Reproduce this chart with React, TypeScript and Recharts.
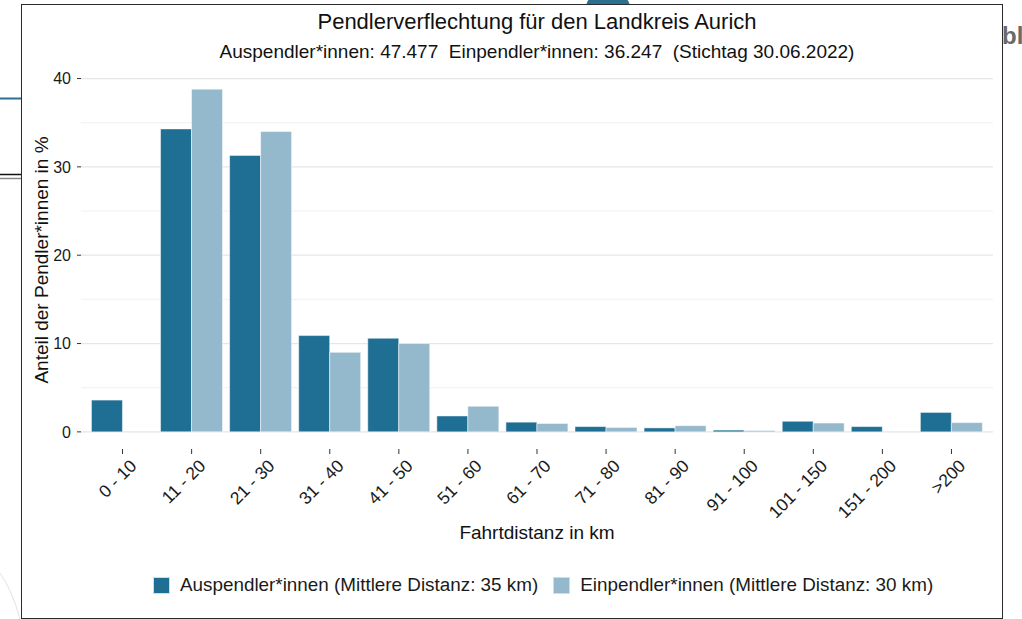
import React from 'react';
import { BarChart, Bar, XAxis, YAxis, CartesianGrid, Legend } from 'recharts';

const categories = ['0 - 10', '11 - 20', '21 - 30', '31 - 40', '41 - 50', '51 - 60', '61 - 70', '71 - 80', '81 - 90', '91 - 100', '101 - 150', '151 - 200', '>200'];
const auspendler = [3.6, 34.3, 31.3, 10.9, 10.6, 1.8, 1.1, 0.6, 0.45, 0.2, 1.2, 0.6, 2.2];
const einpendler = [null, 38.8, 34.0, 9.0, 10.0, 2.9, 0.95, 0.5, 0.7, 0.15, 1.0, null, 1.05];
const yTicks = [0, 10, 20, 30, 40];
const minorGrid = [5, 15, 25, 35];

const seriesNames = {
    aus: 'Auspendler*innen (Mittlere Distanz: 35 km)',
    ein: 'Einpendler*innen (Mittlere Distanz: 30 km)',
};
const colors = { aus: '#1f6f94', ein: '#94b9cc' };

const data = categories.map((c, i) => ({ name: c, aus: auspendler[i], ein: einpendler[i] }));

const FONT = '"Liberation Sans", Arial, sans-serif';

function XTick(props: any) {
    const { x, y, payload } = props;
    return (
        <g transform={`translate(${x + 15},${y + 11})`}>
            <text x={0} y={0} textAnchor="end" transform="rotate(-45)" fontSize={17.5} fill="#1a1a1a" fontFamily={FONT}>
                {payload.value}
            </text>
        </g>
    );
}

function LegendContent() {
    const items = [
        { key: 'aus', label: seriesNames.aus, color: colors.aus },
        { key: 'ein', label: seriesNames.ein, color: colors.ein },
    ];
    return (
        <div style={{ display: 'flex', alignItems: 'center', fontFamily: FONT, fontSize: 18.85, color: '#1a1a1a', whiteSpace: 'nowrap' }}>
            {items.map((it, i) => (
                <div key={it.key} style={{ display: 'flex', alignItems: 'center', marginLeft: i === 0 ? 0 : 15 }}>
                    <span style={{ width: 17, height: 17, background: it.color, border: '1px solid #cfdde6', boxSizing: 'border-box', marginRight: 10, display: 'inline-block' }} />
                    <span>{it.label}</span>
                </div>
            ))}
        </div>
    );
}

export default function App() {
    return (
        <div style={{ position: 'absolute', left: 0, top: 0, width: 1022, height: 619, background: '#fff', overflow: 'hidden', fontFamily: FONT }}>
            {/* screenshot surroundings */}
            <svg width={1022} height={619} style={{ position: 'absolute', left: 0, top: 0 }}>
                <circle cx={608} cy={12} r={23} fill="#2a6f8f" />
                <line x1={0} x2={22} y1={98.5} y2={98.5} stroke="#2d6f8f" strokeWidth={2} />
                <line x1={0} x2={22} y1={174.5} y2={174.5} stroke="#111" strokeWidth={1.5} />
                <line x1={0} x2={22} y1={178.5} y2={178.5} stroke="#888" strokeWidth={1.5} />
                <path d="M 0 573 Q 12 590 20 619" fill="none" stroke="#e2e2e2" strokeWidth={1} />
                <text x={1002} y={44} fontSize={24} fontWeight="bold" fill="#6a6a6a" fontFamily={FONT}>bl</text>
            </svg>
            <div style={{ position: 'absolute', left: 20.5, top: 3.5, width: 982, height: 615, border: '1.5px solid #2b2b2b', boxSizing: 'border-box', background: '#fff' }} />

            <div style={{ position: 'absolute', left: 0, top: 0 }}>
                <BarChart
                    width={1022}
                    height={619}
                    data={data}
                    margin={{ top: 72, right: 29, left: 21, bottom: 90 }}
                    barCategoryGap="5%"
                    barGap={0}
                >
                    <CartesianGrid vertical={false} horizontalValues={minorGrid} stroke="#f1f1f1" strokeWidth={1} />
                    <CartesianGrid vertical={false} horizontalValues={yTicks} stroke="#e6e6e6" strokeWidth={1.2} />
                    <XAxis
                        dataKey="name"
                        height={80}
                        interval={0}
                        padding={{ left: 7, right: 7 }}
                        axisLine={false}
                        tickLine={{ stroke: '#333' }}
                        tickSize={5}
                        tick={<XTick />}
                    />
                    <YAxis
                        width={60}
                        domain={[-1.94, 40.74]}
                        ticks={yTicks}
                        allowDataOverflow
                        axisLine={false}
                        tickLine={{ stroke: '#333' }}
                        tickSize={4}
                        tickMargin={6}
                        tick={{ fontSize: 16, fill: '#1a1a1a', fontFamily: FONT }}
                    />
                    <Legend
                        verticalAlign="middle"
                        align="center"
                        layout="horizontal"
                        wrapperStyle={{ top: 574, left: 153, width: 850 }}
                        content={<LegendContent />}
                    />
                    <Bar dataKey="aus" name={seriesNames.aus} fill={colors.aus} stroke="#ffffff" strokeWidth={0.5} isAnimationActive={false} />
                    <Bar dataKey="ein" name={seriesNames.ein} fill={colors.ein} stroke="#ffffff" strokeWidth={0.5} isAnimationActive={false} />
                </BarChart>
            </div>

            <svg width={1022} height={619} style={{ position: 'absolute', left: 0, top: 0, pointerEvents: 'none' }}>
                <text x={537} y={29} textAnchor="middle" fontSize={22} fill="#111" fontFamily={FONT}>
                    Pendlerverflechtung für den Landkreis Aurich
                </text>
                <text x={537} y={58} textAnchor="middle" fontSize={19} fill="#111" fontFamily={FONT} style={{ whiteSpace: 'pre' }}>
                    {'Auspendler*innen: 47.477  Einpendler*innen: 36.247  (Stichtag 30.06.2022)'}
                </text>
                <text x={537} y={539} textAnchor="middle" fontSize={19} fill="#111" fontFamily={FONT}>
                    Fahrtdistanz in km
                </text>
                <text transform="translate(48,260) rotate(-90)" textAnchor="middle" fontSize={19} fill="#111" fontFamily={FONT}>
                    Anteil der Pendler*innen in %
                </text>
            </svg>
        </div>
    );
}
